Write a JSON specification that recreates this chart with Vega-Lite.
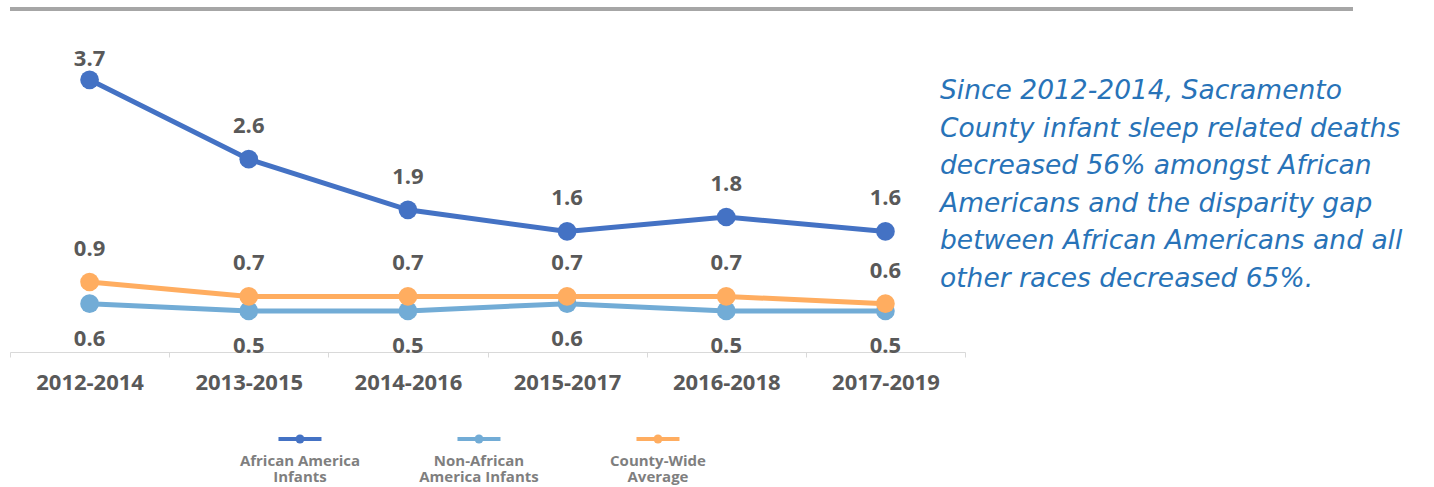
{
  "$schema": "https://vega.github.io/schema/vega-lite/v6.json",
  "background": "white",
  "padding": {"left": 8, "top": 7, "right": 0, "bottom": 0},
  "spacing": 36,
  "config": {"view": {"stroke": null}, "font": "Open Sans"},
  "datasets": {
    "rates": [
      {"period": "2012-2014", "series": "African America Infants", "value": 3.7},
      {"period": "2013-2015", "series": "African America Infants", "value": 2.6},
      {"period": "2014-2016", "series": "African America Infants", "value": 1.9},
      {"period": "2015-2017", "series": "African America Infants", "value": 1.6},
      {"period": "2016-2018", "series": "African America Infants", "value": 1.8},
      {"period": "2017-2019", "series": "African America Infants", "value": 1.6},
      {"period": "2012-2014", "series": "Non-African America Infants", "value": 0.6},
      {"period": "2013-2015", "series": "Non-African America Infants", "value": 0.5},
      {"period": "2014-2016", "series": "Non-African America Infants", "value": 0.5},
      {"period": "2015-2017", "series": "Non-African America Infants", "value": 0.6},
      {"period": "2016-2018", "series": "Non-African America Infants", "value": 0.5},
      {"period": "2017-2019", "series": "Non-African America Infants", "value": 0.5},
      {"period": "2012-2014", "series": "County-Wide Average", "value": 0.9},
      {"period": "2013-2015", "series": "County-Wide Average", "value": 0.7},
      {"period": "2014-2016", "series": "County-Wide Average", "value": 0.7},
      {"period": "2015-2017", "series": "County-Wide Average", "value": 0.7},
      {"period": "2016-2018", "series": "County-Wide Average", "value": 0.7},
      {"period": "2017-2019", "series": "County-Wide Average", "value": 0.6}
    ],
    "legendItems": [
      {"series": "African America Infants", "label": "African America\nInfants"},
      {"series": "Non-African America Infants", "label": "Non-African\nAmerica Infants"},
      {"series": "County-Wide Average", "label": "County-Wide\nAverage"}
    ],
    "note": [
      {"text": "Since 2012-2014, Sacramento\nCounty infant sleep related deaths\ndecreased 56% amongst African\nAmericans and the disparity gap\nbetween African Americans and all\nother races decreased 65%."}
    ]
  },
  "vconcat": [
    {
      "width": 1343,
      "height": 338,
      "layer": [
        {
          "data": {"name": "rates"},
          "mark": {"type": "line", "strokeWidth": 5},
          "encoding": {
            "x": {"field": "period", "type": "nominal", "sort": null,
              "scale": {"type": "band", "range": [0, 955], "paddingInner": 0, "paddingOuter": 0},
              "axis": {"title": null, "orient": "bottom", "offset": 5, "labelAngle": 0,
                "domainColor": "#d9d9d9", "tickColor": "#d9d9d9", "tickSize": 5, "tickBand": "extent",
                "labelFont": "Open Sans", "labelFontWeight": "bold", "labelFontSize": 22,
                "labelColor": "#595959", "labelPadding": 15}},
            "y": {"field": "value", "type": "quantitative",
              "scale": {"domain": [0, 4.68], "nice": false, "zero": true}, "axis": null},
            "color": {"field": "series", "type": "nominal",
              "scale": {"domain": ["African America Infants", "Non-African America Infants", "County-Wide Average"],
                "range": ["#4472c4", "#72acd6", "#ffad60"]},
              "legend": null}
          }
        },
        {
          "data": {"name": "rates"},
          "mark": {"type": "circle", "size": 350, "opacity": 1},
          "encoding": {
            "x": {"field": "period", "type": "nominal", "sort": null},
            "y": {"field": "value", "type": "quantitative"},
            "color": {"field": "series", "type": "nominal", "legend": null}
          }
        },
        {
          "data": {"name": "rates"},
          "transform": [{"filter": "datum.series != 'Non-African America Infants' && datum.value < 3"}],
          "mark": {"type": "text", "dy": -33, "font": "Open Sans", "fontWeight": "bold", "fontSize": 22, "color": "#595959"},
          "encoding": {
            "x": {"field": "period", "type": "nominal", "sort": null},
            "y": {"field": "value", "type": "quantitative"},
            "text": {"field": "value", "type": "quantitative", "format": ".1f"}
          }
        },
        {
          "data": {"name": "rates"},
          "transform": [{"filter": "datum.value >= 3"}],
          "mark": {"type": "text", "dy": -21, "font": "Open Sans", "fontWeight": "bold", "fontSize": 22, "color": "#595959"},
          "encoding": {
            "x": {"field": "period", "type": "nominal", "sort": null},
            "y": {"field": "value", "type": "quantitative"},
            "text": {"field": "value", "type": "quantitative", "format": ".1f"}
          }
        },
        {
          "data": {"name": "rates"},
          "transform": [{"filter": "datum.series == 'Non-African America Infants'"}],
          "mark": {"type": "text", "dy": 35, "font": "Open Sans", "fontWeight": "bold", "fontSize": 22, "color": "#595959"},
          "encoding": {
            "x": {"field": "period", "type": "nominal", "sort": null},
            "y": {"field": "value", "type": "quantitative"},
            "text": {"field": "value", "type": "quantitative", "format": ".1f"}
          }
        },
        {
          "data": {"name": "note"},
          "mark": {"type": "rule", "color": "#a6a6a6", "strokeWidth": 4},
          "encoding": {"y": {"value": 0}}
        },
        {
          "data": {"name": "note"},
          "mark": {"type": "text", "align": "left", "baseline": "middle", "lineBreak": "\n", "lineHeight": 37.5,
            "font": "DejaVu Sans", "fontStyle": "italic", "fontSize": 26.5, "color": "#2873b8", "dy": -87},
          "encoding": {
            "x": {"value": 930},
            "text": {"field": "text", "type": "nominal"}
          }
        }
      ]
    },
    {
      "width": 716,
      "height": 20,
      "data": {"name": "legendItems"},
      "encoding": {
        "x": {"field": "series", "type": "nominal",
          "scale": {"type": "point", "padding": 1, "align": 0.81,
            "domain": ["African America Infants", "Non-African America Infants", "County-Wide Average"]},
          "axis": null},
        "color": {"field": "series", "type": "nominal", "legend": null}
      },
      "layer": [
        {"mark": {"type": "tick", "orient": "horizontal", "size": 43, "thickness": 4, "opacity": 1}},
        {"mark": {"type": "circle", "size": 80, "opacity": 1}},
        {
          "mark": {"type": "text", "baseline": "top", "dy": 15, "lineBreak": "\n", "lineHeight": 16,
            "font": "Open Sans", "fontWeight": "bold", "fontSize": 15, "color": "#7f7f7f"},
          "encoding": {"text": {"field": "label", "type": "nominal"}, "color": {"value": "#7f7f7f"}}
        }
      ]
    }
  ]
}
